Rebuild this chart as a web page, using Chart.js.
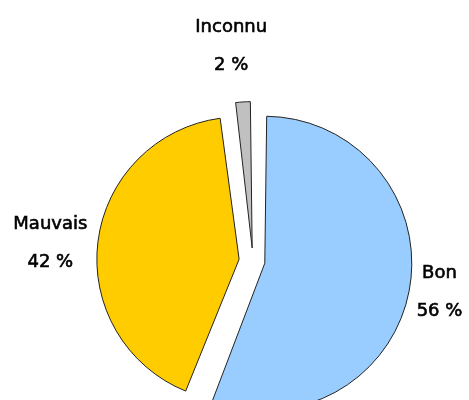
<!DOCTYPE html>
<html>
<head>
<meta charset="utf-8">
<script src="https://cdn.jsdelivr.net/npm/chart.js@4/dist/chart.umd.min.js"></script>
<style>
    html, body { margin: 0; padding: 0; background: #fff; overflow: hidden; width: 469px; height: 400px; }
    #chart { position: absolute; left: 0; top: 0; }
</style>
</head>
<body>
<canvas id="chart" width="506" height="522"></canvas>
<script>
const categories = ["Bon", "Mauvais", "Inconnu"];
const percentValues = [56, 42, 2];
const sliceColors = ["#99CCFF", "#FFCC00", "#C0C0C0"];
// explode distance of each slice (chart.js moves a slice by offset / 4)
const sliceOffsets = [48, 56, 52];
const labelGaps = [8, 11, 56];

// draws "name" and "xx %" outside each slice
const outsideLabels = {
    id: 'outsideLabels',
    afterDatasetsDraw(chart) {
        const ctx = chart.ctx;
        const meta = chart.getDatasetMeta(0);
        ctx.save();
        ctx.font = '18px "DejaVu Sans"';
        ctx.fillStyle = '#000';
        ctx.strokeStyle = '#000';
        ctx.lineWidth = 0.6;
        ctx.textAlign = 'center';
        ctx.textBaseline = 'middle';
        const lineGap = 38;
        meta.data.forEach((arc, i) => {
            const p = arc.getProps(['x', 'y', 'startAngle', 'endAngle', 'outerRadius', 'circumference']);
            const mid = (p.startAngle + p.endAngle) / 2;
            const dx = Math.cos(mid), dy = Math.sin(mid);
            const shift = sliceOffsets[i] / 4;
            const fix = 1 - Math.sin(Math.min(Math.PI, p.circumference));
            const dist = shift + p.outerRadius + shift * fix + labelGaps[i];
            const name = categories[i];
            const pct = percentValues[i] + ' %';
            const w = Math.max(ctx.measureText(name).width, ctx.measureText(pct).width);
            const cx = p.x + dx * dist + dx * w / 2 - (i === 2 ? 6 : 0);
            const cy = p.y + dy * dist + (i === 1 ? 3 : 0);
            [[name, cy - lineGap / 2], [pct, cy + lineGap / 2]].forEach(([t, ty]) => {
                ctx.fillText(t, cx, ty);
                ctx.strokeText(t, cx, ty);
            });
        });
        ctx.restore();
    }
};

new Chart(document.getElementById('chart'), {
    type: 'pie',
    data: {
        labels: categories,
        datasets: [{
            data: percentValues,
            backgroundColor: sliceColors,
            borderColor: '#222',
            borderWidth: 1,
            offset: sliceOffsets,
            hoverOffset: 0
        }]
    },
    options: {
        responsive: false,
        animation: false,
        radius: 135,
        plugins: {
            legend: { display: false },
            tooltip: { enabled: false }
        }
    },
    plugins: [outsideLabels]
});
</script>
</body>
</html>
